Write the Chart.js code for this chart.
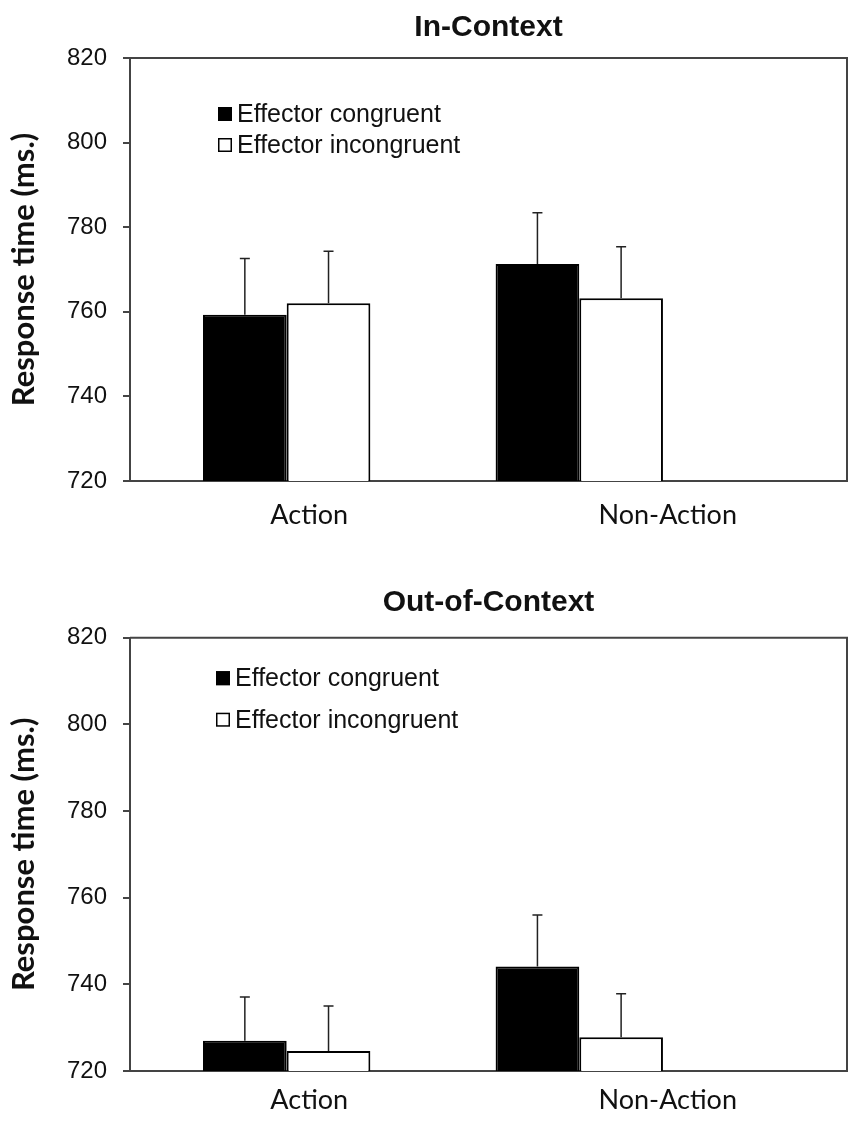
<!DOCTYPE html>
<html>
<head>
<meta charset="utf-8">
<title>Response time</title>
<script src="https://cdn.jsdelivr.net/npm/chart.js@4.4.1/dist/chart.umd.min.js"></script>
<style>
  html, body { margin: 0; padding: 0; background: #fff; }
  #wrap { position: relative; width: 851px; height: 1126px; }
  canvas { position: absolute; left: 0; }
</style>
</head>
<body>
<div id="wrap">
  <canvas id="inContext" width="851" height="560" style="top:0px"></canvas>
  <canvas id="outContext" width="851" height="566" style="top:560px"></canvas>
</div>
<script>
const categories = ['Action', 'Non-Action'];
const seriesNames = ['Effector congruent', 'Effector incongruent'];
const yTicks = [720, 740, 760, 780, 800, 820];

// In-Context
const inCongruent = [759.3, 771.3];
const inIncongruent = [762.0, 763.2];
const inCongruentErr = [13.3, 12.1];
const inIncongruentErr = [12.3, 12.2];

// Out-of-Context
const outCongruent = [727.0, 744.1];
const outIncongruent = [724.6, 727.8];
const outCongruentErr = [10.1, 11.9];
const outIncongruentErr = [10.4, 10.0];

const AXIS = '#444';
const TEXT = '#111';

// top and right edges of the plot box
const frame = {
  id: 'frame',
  afterDraw(chart) {
    const { ctx, chartArea: a } = chart;
    ctx.save();
    ctx.strokeStyle = AXIS;
    ctx.lineWidth = 2;
    ctx.beginPath();
    ctx.moveTo(a.left, a.top);
    ctx.lineTo(a.right, a.top);
    ctx.lineTo(a.right, a.bottom);
    ctx.stroke();
    ctx.restore();
  }
};

// upward error bars with a small cap
const errorBars = {
  id: 'errorBars',
  afterDatasetsDraw(chart) {
    const { ctx } = chart;
    const y = chart.scales.y;
    ctx.save();
    ctx.strokeStyle = '#222';
    ctx.lineWidth = 1.5;
    chart.data.datasets.forEach((ds, i) => {
      chart.getDatasetMeta(i).data.forEach((bar, j) => {
        const top = y.getPixelForValue(ds.data[j].y + ds.errors[j]);
        ctx.beginPath();
        ctx.moveTo(bar.x, bar.y);
        ctx.lineTo(bar.x, top);
        ctx.moveTo(bar.x - 5, top);
        ctx.lineTo(bar.x + 5, top);
        ctx.stroke();
      });
    });
    ctx.restore();
  }
};

// legend drawn inside the plot, square markers
const boxLegend = {
  id: 'boxLegend',
  afterDraw(chart, args, opts) {
    const { ctx, chartArea: a } = chart;
    ctx.save();
    ctx.font = '25px "Liberation Sans", Arial, sans-serif';
    ctx.textBaseline = 'middle';
    chart.data.datasets.forEach((ds, i) => {
      const cy = a.top + opts.rows[i];
      ctx.fillStyle = ds.backgroundColor;
      ctx.fillRect(opts.x, cy - 7, 14, 14);
      ctx.strokeStyle = '#000';
      ctx.lineWidth = 1.5;
      ctx.strokeRect(opts.x + 0.75, cy - 6.25, 12.5, 12.5);
      ctx.fillStyle = TEXT;
      ctx.fillText(ds.label, opts.x + 19, cy + 1);
    });
    ctx.restore();
  }
};

function makeChart(id, title, congruent, incongruent, congruentErr, incongruentErr, look) {
  const points = vals => categories.map((c, i) => ({ x: i, y: vals[i] }));
  return new Chart(document.getElementById(id), {
    type: 'bar',
    data: {
      datasets: [
        {
          label: seriesNames[0],
          data: points(congruent),
          errors: congruentErr,
          xAxisID: 'xb',
          backgroundColor: '#000',
          borderColor: '#000',
          borderWidth: 2,
          categoryPercentage: 0.572,
          barPercentage: 1
        },
        {
          label: seriesNames[1],
          data: points(incongruent),
          errors: incongruentErr,
          xAxisID: 'xb',
          backgroundColor: '#fff',
          borderColor: '#000',
          borderWidth: 2,
          categoryPercentage: 0.572,
          barPercentage: 1
        }
      ]
    },
    options: {
      responsive: false,
      animation: false,
      devicePixelRatio: 1,
      layout: { padding: { left: 0, right: 4, top: 0, bottom: 0 } },
      plugins: {
        legend: { display: false },
        tooltip: { enabled: false },
        title: {
          display: true,
          text: title,
          fullSize: false,
          color: TEXT,
          font: { family: '"Liberation Sans", Arial, sans-serif', size: 30, weight: 'bold', lineHeight: 1.2 },
          padding: look.titlePad
        },
        boxLegend: look.legend
      },
      scales: {
        x: {
          type: 'category',
          labels: categories,
          offset: true,
          grid: { display: false },
          border: { display: true, color: AXIS, width: 2 },
          ticks: {
            color: TEXT,
            padding: look.xPad,
            font: { family: 'Lato, "Open Sans", sans-serif', size: 27 }
          },
          afterFit: s => { s.height = look.xHeight; }
        },
        // hidden scale that places the bar groups
        xb: {
          type: 'linear',
          display: false,
          offset: false,
          min: -0.5355,
          max: 1.915,
          afterBuildTicks: s => { s.ticks = categories.map((c, i) => ({ value: i })); }
        },
        y: {
          min: 720,
          max: 820,
          afterBuildTicks: s => { s.ticks = yTicks.map(v => ({ value: v })); },
          grid: { drawOnChartArea: false, drawTicks: true, tickLength: 7, color: AXIS, lineWidth: 2 },
          border: { display: true, color: AXIS, width: 2 },
          ticks: {
            color: TEXT,
            padding: 16,
            font: { family: '"Liberation Sans", Arial, sans-serif', size: 24 }
          },
          title: {
            display: true,
            text: 'Response time (ms.)',
            color: TEXT,
            font: { family: 'Lato, "Open Sans", sans-serif', size: 31, weight: 'bold', lineHeight: 1.2 },
            padding: { top: 5, bottom: 0 }
          },
          afterFit: s => { s.width = 130; }
        }
      }
    },
    plugins: [frame, errorBars, boxLegend]
  });
}

makeChart('inContext', 'In-Context', inCongruent, inIncongruent, inCongruentErr, inIncongruentErr, {
  titlePad: { top: 9.5, bottom: 12.5 },
  xPad: 10,
  xHeight: 79,
  legend: { x: 218, rows: [56, 87] }
});

makeChart('outContext', 'Out-of-Context', outCongruent, outIncongruent, outCongruentErr, outIncongruentErr, {
  titlePad: { top: 24.5, bottom: 17.2 },
  xPad: 5,
  xHeight: 55,
  legend: { x: 216, rows: [40.5, 82] }
});
</script>
</body>
</html>
